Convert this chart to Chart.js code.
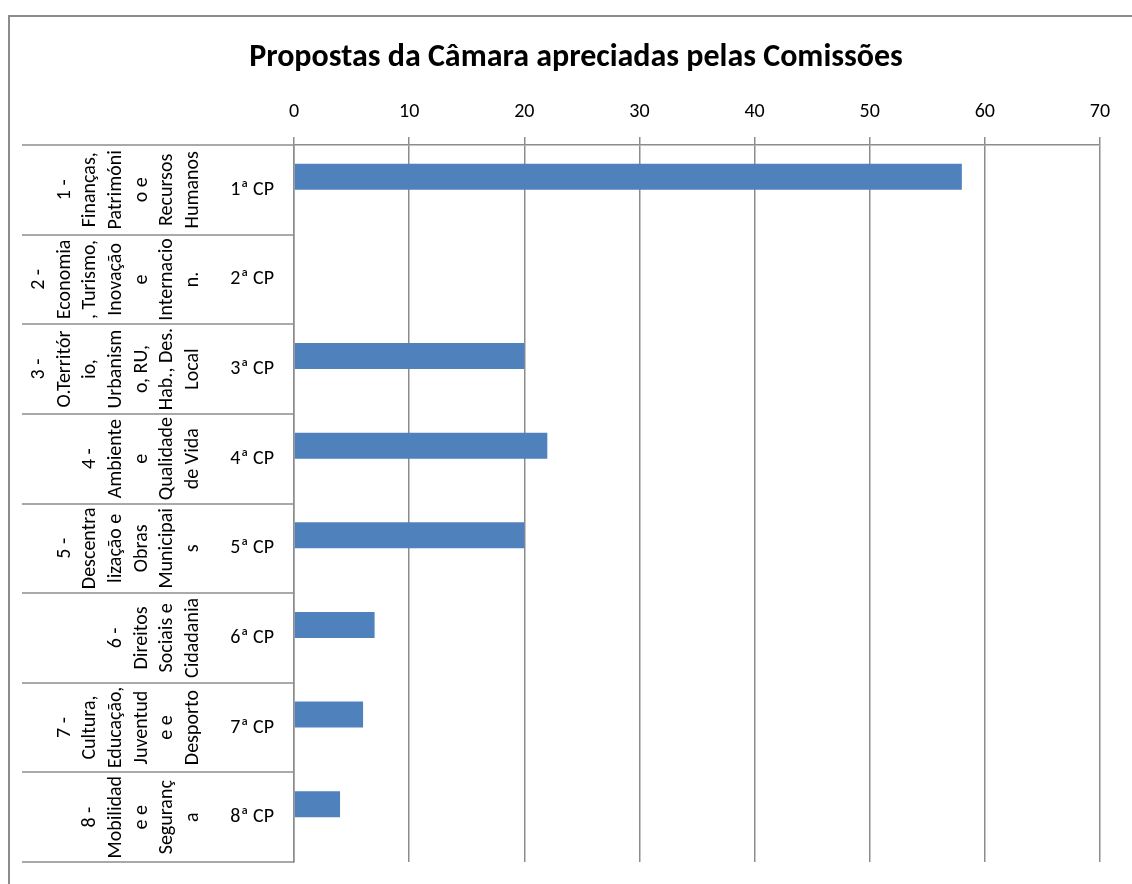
<!DOCTYPE html>
<html lang="pt">
<head>
<meta charset="utf-8">
<title>Propostas da Câmara apreciadas pelas Comissões</title>
<script src="https://cdn.jsdelivr.net/npm/chart.js@4.4.1/dist/chart.umd.min.js"></script>
<style>
html,body{margin:0;padding:0;background:#fff;overflow:hidden;}
canvas{display:block;}
</style>
</head>
<body>
<canvas id="c" width="1132" height="884" style="width:1132px;height:884px;"></canvas>
<script>
const titulo = 'Propostas da Câmara apreciadas pelas Comissões';
const categorias = ['1ª CP','2ª CP','3ª CP','4ª CP','5ª CP','6ª CP','7ª CP','8ª CP'];
const comissoes = [
  ['1 -','Finanças,','Patrimóni','o e','Recursos','Humanos'],
  ['2 -','Economia',', Turismo,','Inovação','e','Internacio','n.'],
  ['3 -','O.Territór','io,','Urbanism','o, RU,','Hab., Des.','Local'],
  ['4 -','Ambiente','e','Qualidade','de Vida'],
  ['5 -','Descentra','lização e','Obras','Municipai','s'],
  ['6 -','Direitos','Sociais e','Cidadania'],
  ['7 -','Cultura,','Educação,','Juventud','e e','Desporto'],
  ['8 -','Mobilidad','e e','Seguranç','a']
];
const propostas = [58, 0, 20, 22, 20, 7, 6, 4];
const serieVazia = [null, null, null, null, null, null, null, null];
const ticksX = [0, 10, 20, 30, 40, 50, 60, 70];

const FONT = 'Carlito, Lato, "Open Sans", sans-serif';
const GRID = '#8c8c8c';

const niveis = {
  id: 'niveis',
  beforeDraw(chart) {
    const ctx = chart.ctx;
    ctx.save();
    ctx.fillStyle = '#fff';
    ctx.fillRect(0, 0, chart.width, chart.height);
    ctx.fillStyle = '#000';
    ctx.font = 'bold 32px ' + FONT;
    ctx.textAlign = 'center';
    ctx.textBaseline = 'middle';
    ctx.fillText(titulo, 576, 57.5);
    ctx.restore();
  },
  afterDraw(chart) {
    const ctx = chart.ctx, y = chart.scales.y, left = chart.chartArea.left;
    ctx.save();
    ctx.strokeStyle = GRID;
    ctx.lineWidth = 2;
    ctx.beginPath();
    ctx.moveTo(9, chart.height);
    ctx.lineTo(9, 16);
    ctx.lineTo(chart.width, 16);
    ctx.stroke();
    ctx.lineWidth = 1.5;
    for (let i = 0; i <= categorias.length; i++) {
      const py = Math.round(y.getPixelForValue(i - 0.5));
      ctx.beginPath(); ctx.moveTo(22, py); ctx.lineTo(left, py); ctx.stroke();
    }
    ctx.fillStyle = '#000';
    ctx.font = '20px ' + FONT;
    ctx.textAlign = 'center';
    ctx.textBaseline = 'middle';
    comissoes.forEach((linhas, i) => {
      const cy = y.getPixelForValue(i);
      const n = linhas.length;
      linhas.forEach((t, k) => {
        const cx = 193 - (n - 1 - k) * 25.7;
        ctx.save();
        ctx.translate(cx, cy);
        ctx.rotate(-Math.PI / 2);
        ctx.fillText(t, 0, 0);
        ctx.restore();
      });
    });
    ctx.restore();
  }
};

new Chart(document.getElementById('c'), {
  type: 'bar',
  data: {
    labels: categorias,
    datasets: [
      { label: 'Propostas', data: propostas, backgroundColor: '#4F81BD', borderWidth: 0, barPercentage: 1, categoryPercentage: 0.58 },
      { label: '', data: serieVazia, backgroundColor: '#C0504D', borderWidth: 0, barPercentage: 1, categoryPercentage: 0.58 }
    ]
  },
  options: {
    indexAxis: 'y',
    responsive: false,
    maintainAspectRatio: false,
    devicePixelRatio: 1,
    animation: false,
    layout: { padding: { left: 0, right: 32, top: 76, bottom: 22 } },
    plugins: {
      legend: { display: false },
      tooltip: { enabled: false },
      title: { display: false }
    },
    scales: {
      x: {
        position: 'top', min: 0, max: 70,
        afterBuildTicks: s => { s.ticks = ticksX.map(v => ({ value: v })); },
        afterFit: s => { s.height = 69; },
        grid: { color: GRID, lineWidth: 1.5, drawTicks: true, tickLength: 8 },
        border: { display: true, color: GRID, width: 1.5 },
        ticks: { color: '#000', font: { family: FONT, size: 20 }, padding: 13, maxRotation: 0 }
      },
      y: {
        afterFit: s => { s.width = 294; s.paddingTop = 0; s.paddingBottom = 0; },
        grid: { display: false, drawTicks: false },
        border: { display: true, color: GRID, width: 1.5 },
        ticks: { color: '#000', font: { family: FONT, size: 20 }, padding: 20 }
      }
    }
  },
  plugins: [niveis]
});
</script>
</body>
</html>
